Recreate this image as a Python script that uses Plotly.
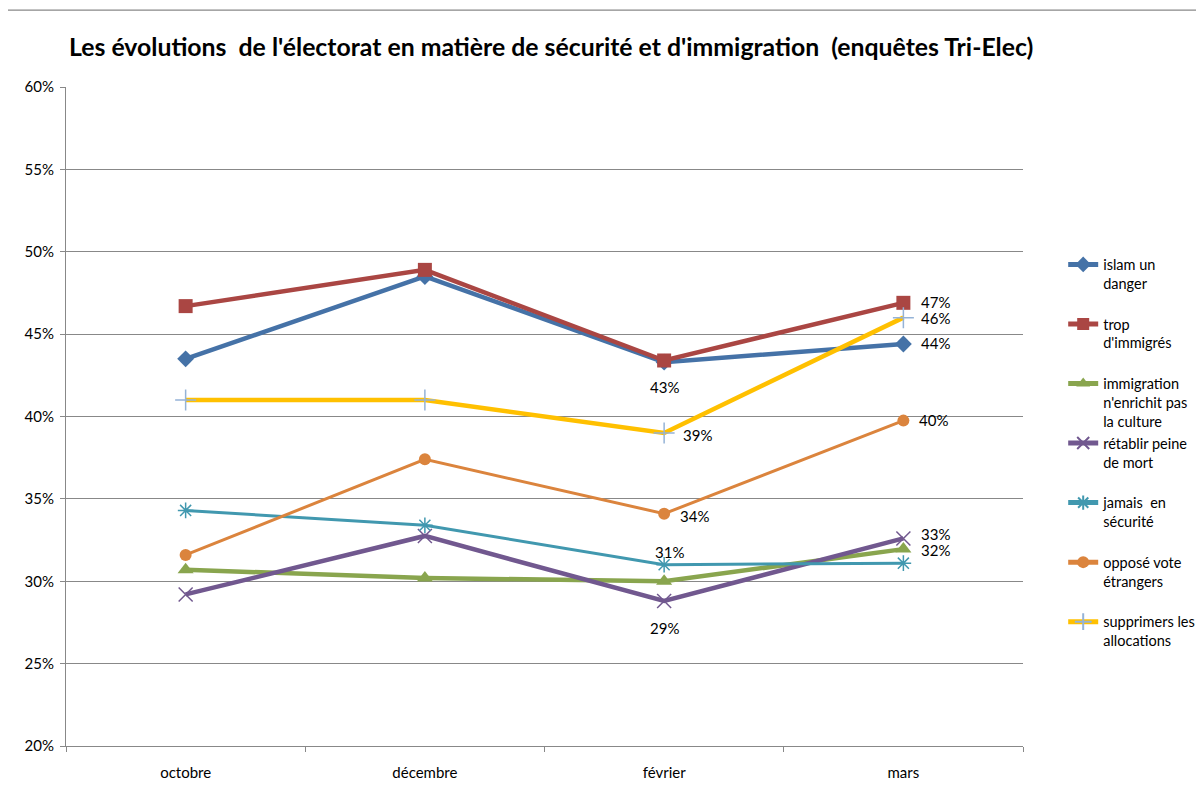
import plotly.graph_objects as go

categories = ["octobre", "décembre", "février", "mars"]

series_names = [
    "islam un<br>danger",
    "trop<br>d'immigrés",
    "immigration<br>n'enrichit pas<br>la culture",
    "rétablir peine<br>de mort",
    "jamais  en<br>sécurité",
    "opposé vote<br>étrangers",
    "supprimers les<br>allocations",
]

islam = [43.5, 48.5, 43.3, 44.4]
trop = [46.7, 48.9, 43.4, 46.9]
immigration = [30.7, 30.2, 30.0, 31.95]
retablir = [29.2, 32.75, 28.8, 32.6]
jamais = [34.3, 33.4, 31.0, 31.1]
oppose = [31.6, 37.4, 34.1, 39.75]
supprimer = [41.0, 41.0, 39.0, 46.0]

series_values = [islam, trop, immigration, retablir, jamais, oppose, supprimer]

line_colors = ["#4572A7", "#AA4643", "#89A54E", "#71588F", "#4198AF", "#DB843D", "#FFC000"]
line_widths = [4.5, 4.5, 4.5, 4.5, 3, 3, 4.5]
marker_symbols = ["diamond", "square", "triangle-up", "x-thin-open", "asterisk-open", "circle", "cross-thin-open"]
marker_sizes = [13, 14, 14, 14, 13, 12, 15]
marker_colors = ["#4572A7", "#AA4643", "#89A54E", "#71588F", "#4198AF", "#DB843D", "#95B3D7"]
marker_line_widths = [0, 0, 0, 1.5, 1.5, 0, 1.5]

# data labels: (series index, category index, text offset x, y in px)
label_points = [
    (0, 2, 0, -25),
    (6, 2, 33, -2),
    (5, 2, 30, -2),
    (4, 2, 5, 13),
    (3, 2, 0, -27),
    (1, 3, 32, 1),
    (6, 3, 32, 0),
    (0, 3, 32, 1),
    (5, 3, 30, 1),
    (3, 3, 32, 4),
    (2, 3, 32, -1),
]

FONT = "Lato, Carlito, Calibri, sans-serif"
FS = 15
LEG_FS = 14.5

fig = go.Figure()
for name, vals, c, w, sym, ms, mc, mlw in zip(series_names, series_values, line_colors,
                                             line_widths, marker_symbols, marker_sizes,
                                             marker_colors, marker_line_widths):
    fig.add_trace(go.Scatter(
        x=categories, y=vals, name=name + ("" if name.count("<br>") >= 2 else "<br> "),
        mode="lines+markers",
        line=dict(color=c, width=w),
        marker=dict(symbol=sym, size=ms, color=mc, line=dict(color=mc, width=mlw)),
    ))

for si, ci, dx, dy in label_points:
    v = series_values[si][ci]
    fig.add_annotation(
        x=categories[ci], y=v, text=f"{round(v):d}%", showarrow=False,
        xshift=dx, yshift=dy, font=dict(family=FONT, size=FS, color="#000000"),
    )

# chart outer border (top and left)
fig.add_shape(type="line", xref="paper", yref="paper", x0=-0.0614, x1=1.3, y0=1.1168, y1=1.1168,
              line=dict(color="#888888", width=1.2))
fig.add_shape(type="line", xref="paper", yref="paper", x0=-0.0614, x1=-0.0614, y0=1.1168, y1=-0.2,
              line=dict(color="#888888", width=1.2))

fig.update_layout(
    width=1204, height=793,
    margin=dict(l=58, r=185, t=79, b=55),
    paper_bgcolor="white", plot_bgcolor="white",
    font=dict(family=FONT, size=FS, color="#000000"),
    title=dict(text="<b>Les évolutions  de l'électorat en matière de sécurité et d'immigration  (enquêtes Tri-Elec)</b>",
               x=0.507, xref="paper", xanchor="center", y=1 - 39 / 793, yref="container", yanchor="middle",
               font=dict(family=FONT, size=24.8, color="#000000")),
    showlegend=True,
    legend=dict(x=1.042, y=0.755, xanchor="left", yanchor="top", valign="top",
                font=dict(family=FONT, size=LEG_FS, color="#000000"), itemsizing="constant",
                bgcolor="rgba(0,0,0,0)", itemwidth=30, tracegroupgap=0),
)
fig.update_xaxes(
    type="category", range=[-0.5, 3.5], showgrid=False, showline=True, linecolor="#888888", linewidth=1,
    ticks="outside", tickson="boundaries", ticklen=5, tickcolor="#888888", ticklabelstandoff=13,
    tickfont=dict(family=FONT, size=FS, color="#000000"), fixedrange=True,
)
fig.update_yaxes(
    range=[20, 60], dtick=5, ticksuffix="%", showgrid=True, gridcolor="#888888", gridwidth=1,
    showline=True, linecolor="#888888", linewidth=1, ticks="outside", ticklen=5, tickcolor="#888888",
    ticklabelstandoff=3,
    tickfont=dict(family=FONT, size=FS, color="#000000"), zeroline=False, fixedrange=True,
)

fig.write_html("out.html")
